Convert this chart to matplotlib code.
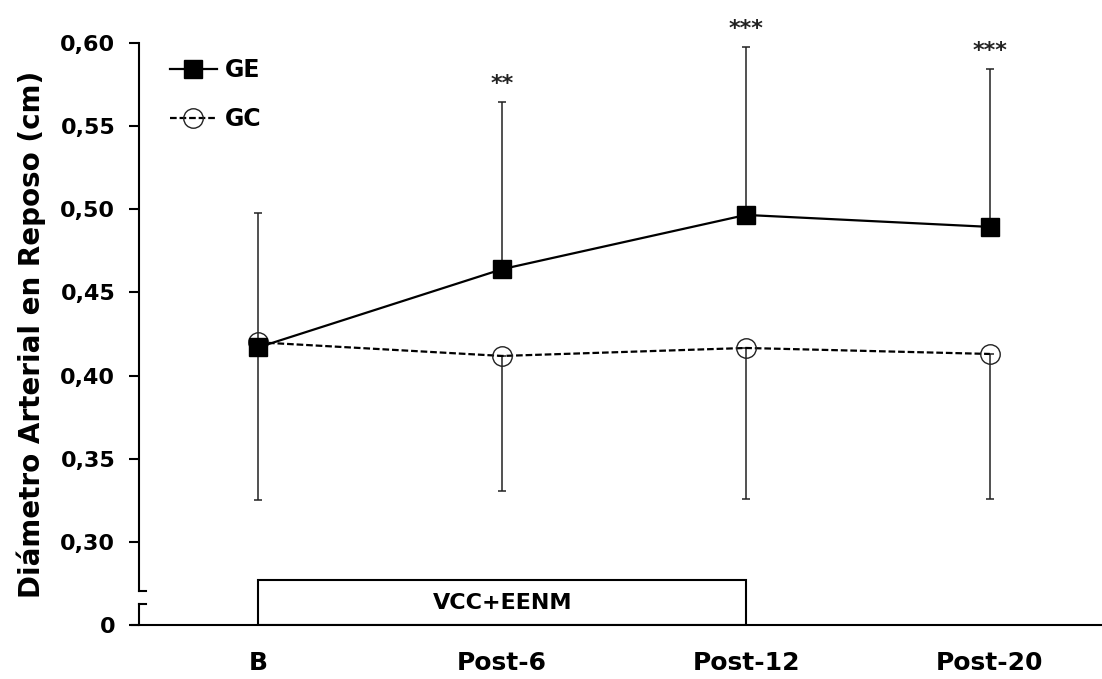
import matplotlib
matplotlib.use("Agg")
import matplotlib.pyplot as plt
from matplotlib.patches import Rectangle

# Mean and SD of resting arterial diameter (cm)
moments = ["B", "Post-6", "Post-12", "Post-20"]
ge_mean = [0.417, 0.464, 0.4966, 0.4894]
ge_sd = [0.081, 0.1005, 0.101, 0.095]
gc_mean = [0.420, 0.4118, 0.4166, 0.413]
gc_sd = [0.095, 0.081, 0.0906, 0.0874]
stars = ["", "**", "***", "***"]

plt.rcParams["font.family"] = "DejaVu Sans"
plt.rcParams["font.weight"] = "bold"

fig = plt.figure(figsize=(11.02, 6.79), dpi=100)
ax = fig.add_axes([0.1261, 0.0795, 0.8739, 0.8572])

x = list(range(len(moments)))
y0 = 0.25  # where the "0" sits below the axis break

# error bars: GE upwards, GC downwards
ax.errorbar(x, gc_mean, yerr=[gc_sd, [0] * 4], fmt="none", ecolor="#222222",
            elinewidth=1.1, capsize=3, capthick=1.1, zorder=2)
ax.errorbar(x, ge_mean, yerr=[[0] * 4, ge_sd], fmt="none", ecolor="#222222",
            elinewidth=1.1, capsize=3, capthick=1.1, zorder=2)

ax.plot(x, gc_mean, color="black", lw=1.6, dashes=(3, 1.3), marker="o",
        markersize=14, markerfacecolor="none", markeredgecolor="#222222",
        markeredgewidth=1.0, label="GC", zorder=3)
ax.plot(x, ge_mean, color="black", lw=1.6, marker="s", markersize=13.5,
        markerfacecolor="black", markeredgecolor="black", label="GE", zorder=4)

for xi, m, s, lab in zip(x, ge_mean, ge_sd, stars):
    if lab:
        ax.annotate(lab, (xi, m + s), xytext=(0, 6), textcoords="offset points",
                    ha="center", va="bottom", fontsize=16, fontweight="bold",
                    color="#222222", annotation_clip=False)

# intervention period box
ax.add_patch(Rectangle((0, y0), 2, 0.277 - y0, facecolor="white",
                       edgecolor="black", lw=1.5, zorder=1))
ax.text(1, (y0 + 0.277) / 2, "VCC+EENM", ha="center", va="center",
        fontsize=16, fontweight="bold")

ax.set_xlim(-0.49, 3.46)
ax.set_ylim(y0, 0.60)

yt = [0.25, 0.30, 0.35, 0.40, 0.45, 0.50, 0.55, 0.60]
ax.set_yticks(yt)
ax.set_yticklabels(["0"] + [f"{v:.2f}".replace(".", ",") for v in yt[1:]])
ax.set_xticks(x)
ax.set_xticklabels(moments)
ax.tick_params(axis="y", length=7, width=1.5, labelsize=16, pad=10)
ax.tick_params(axis="x", length=0, labelsize=18, pad=19)

for side in ["top", "right", "bottom"]:
    ax.spines[side].set_visible(False)
ax.spines["left"].set_linewidth(1.5)
ax.spines["left"].set_bounds(0.2705, 0.60)

# lower piece of the broken y axis and the break marks
ax.plot([-0.49, -0.49], [y0, 0.2627], color="black", lw=1.5, clip_on=False)
for yb in [0.2705, 0.2627]:
    ax.plot([-0.49, -0.46], [yb, yb], color="black", lw=1.5, clip_on=False)
# x axis line starting just left of the y axis
ax.plot([-0.52, 3.46], [y0, y0], color="black", lw=1.5, clip_on=False)

ax.set_ylabel("Diámetro Arterial en Reposo (cm)", fontsize=20,
              fontweight="bold", labelpad=10)

h, l = ax.get_legend_handles_labels()
leg = ax.legend(h[::-1], l[::-1], loc="upper left", bbox_to_anchor=(0.01, 1.01),
                frameon=False, fontsize=17, handlelength=2.0, handletextpad=0.35,
                labelspacing=1.05)

fig.savefig("out.png", dpi=100)
